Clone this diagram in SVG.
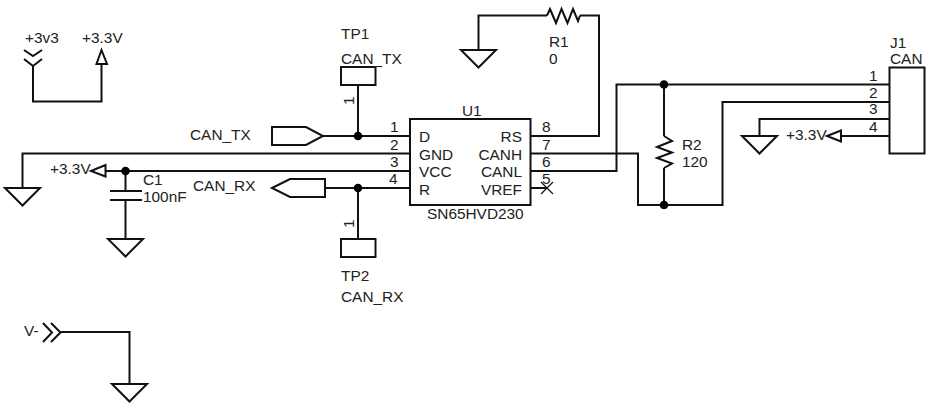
<svg xmlns="http://www.w3.org/2000/svg" width="944" height="413" viewBox="0 0 944 413">
<style>
text{font-family:"Liberation Sans",Arial,sans-serif;font-size:15.400px;fill:#222}
.e{text-anchor:end}
.w,.s{fill:none;stroke:#111;stroke-width:2;stroke-linejoin:miter}
.t{fill:none;stroke:#111;stroke-width:1.2}
.d{fill:#000}
</style>
<defs>
<path id="gnd" class="s" d="M-17.5 0H17.5L0 17.5Z"/>
</defs>
<rect width="944" height="413" fill="#fff"/>
<g id="connectors">
<path class="w" d="M33 66V101.500H101.500V64"/>
<path class="w" d="M22.500 188V153.500H410"/>
<path class="w" d="M105.500 171H410"/>
<path class="w" d="M125.500 171V191M125.500 200V239"/>
<path class="w" d="M323 136H410"/>
<path class="w" d="M325 188H410"/>
<path class="w" d="M358 85V136M358 188V239"/>
<path class="w" d="M478.500 50V15.500H547M580 15.500H599V136H530"/>
<path class="w" d="M530 153.500H638V205H722.500V102H889.500"/>
<path class="w" d="M530 171H616.500V84.500H889.500"/>
<path class="w" d="M664 84.500V136M664 168V205"/>
<path class="w" d="M759.500 136V119H889.500"/>
<path class="w" d="M841 136H889.500"/>
<path class="w" d="M530 188H547"/>
<path class="w" d="M61 332H129.500V384"/>
</g>
<g id="pwr-3v3"><path class="s" d="M24 50L33 56L42 50M24 59L33 66L42 59"/><text x="25" y="43">+3v3</text></g>
<g id="pwr-3v3-b"><path class="s" d="M101.500 50L96.500 64H107Z"/><text x="82" y="43">+3.3V</text></g>
<g id="gnd-left"><use href="#gnd" x="22.500" y="188"/></g>
<g id="pwr-left"><path class="s" d="M91 171L105.500 165V176.500Z"/><text x="50" y="174">+3.3V</text></g>
<g id="C1"><path class="s" d="M110 191H142M110 200H142"/><circle class="d" cx="125.500" cy="171" r="4.300"/><text x="143" y="185">C1</text><text x="143" y="202">100nF</text><use href="#gnd" x="125.500" y="239"/></g>
<g id="port-tx"><path class="s" d="M272 127H306L323 136L306 145H272Z"/><text x="190" y="140">CAN_TX</text></g>
<g id="port-rx"><path class="s" d="M272 188L290 179H325V197H290Z"/><text x="193" y="191">CAN_RX</text></g>
<g id="TP1"><rect class="s" x="341" y="67" width="34.500" height="18"/><circle class="d" cx="358" cy="136" r="4.300"/><text x="341" y="39">TP1</text><text x="341" y="64">CAN_TX</text><text transform="translate(354 105) rotate(-90)">1</text></g>
<g id="TP2"><rect class="s" x="341" y="239" width="34.500" height="18"/><circle class="d" cx="358" cy="188" r="4.300"/><text x="341" y="281">TP2</text><text x="341" y="302">CAN_RX</text><text transform="translate(354 228) rotate(-90)">1</text></g>
<g id="U1"><rect class="s" x="410" y="119" width="120.500" height="86"/>
<text x="462" y="116">U1</text><text x="427" y="219">SN65HVD230</text>
<text x="390" y="132">1</text><text x="390" y="150">2</text><text x="390" y="167">3</text><text x="389" y="184">4</text>
<text x="419" y="142">D</text><text x="419" y="160">GND</text><text x="419" y="177">VCC</text><text x="419" y="195">R</text>
<text x="542" y="132">8</text><text x="542" y="150">7</text><text x="542" y="167">6</text><text x="542" y="184">5</text>
<text class="e" x="522" y="142">RS</text><text class="e" x="522" y="160">CANH</text><text class="e" x="522" y="177">CANL</text><text class="e" x="522" y="195">VREF</text>
<path class="t" d="M541 182L553 194M553 182L541 194"/></g>
<g id="R1"><path class="s" d="M547 15.500L550 9L556 23L561.500 9L567.500 23L573 9L578 21L580 15.500"/><use href="#gnd" x="478.500" y="50"/><text x="549" y="47">R1</text><text x="549" y="64">0</text></g>
<g id="R2"><path class="s" d="M664 136L672 141L657 147L672 152.500L657 158L672 163.500L664 168"/><circle class="d" cx="664" cy="84.500" r="4.300"/><circle class="d" cx="664" cy="205" r="4.300"/><text x="682" y="150">R2</text><text x="682" y="167">120</text></g>
<g id="J1"><rect class="s" x="889.500" y="67.500" width="35" height="86"/><text x="890" y="48">J1</text><text x="890" y="64">CAN</text>
<text x="869" y="81">1</text><text x="869" y="98">2</text><text x="869" y="114">3</text><text x="869" y="132">4</text></g>
<g id="gnd-j1"><use href="#gnd" x="759.500" y="136"/></g>
<g id="pwr-j1"><path class="s" d="M827 136L841 130.500V141.500Z"/><text x="786" y="140">+3.3V</text></g>
<g id="v-minus"><path class="s" d="M43 323L52 332.500L43 342M51 323L60.500 332.500L51 342"/><text x="24" y="336">V-</text><use href="#gnd" x="129.500" y="384"/></g>
</svg>
